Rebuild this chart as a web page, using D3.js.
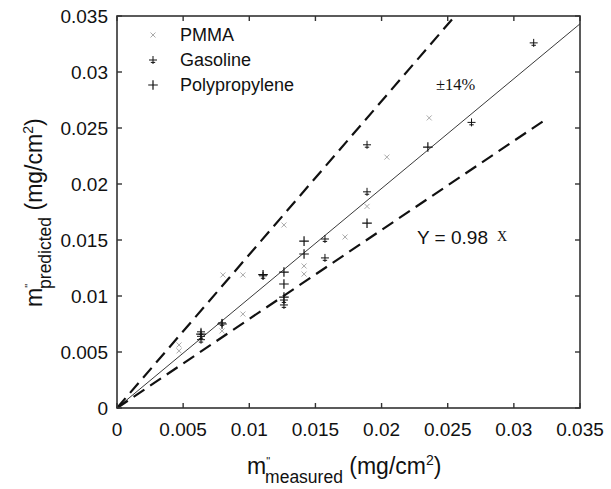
<!DOCTYPE html>
<html>
<head>
<meta charset="utf-8">
<script src="https://cdn.jsdelivr.net/npm/d3@7"></script>
<style>
  body { margin: 0; background: #fff; }
  svg { display: block; font-family: "Liberation Sans", Arial, sans-serif; }
</style>
</head>
<body>
<div id="chart"></div>
<script>
// measured vs predicted mass loss (mg/cm2)
const pmma = [
    [0.00469, 0.00563], [0.00469, 0.0051], [0.00794, 0.00688], [0.00801, 0.01188],
    [0.00952, 0.01188], [0.00952, 0.00839], [0.01262, 0.01634], [0.01414, 0.01268],
    [0.01414, 0.01196], [0.01724, 0.01527], [0.0189, 0.0180], [0.0204, 0.0224],
    [0.0236, 0.0259]
];
const gasoline = [
    [0.00635, 0.0068], [0.00635, 0.0064], [0.00635, 0.0061], [0.00794, 0.0076],
    [0.01104, 0.0118], [0.01262, 0.00964], [0.01262, 0.0092], [0.01572, 0.01509],
    [0.01572, 0.0134], [0.0189, 0.0193], [0.0189, 0.0235], [0.0268, 0.0255],
    [0.0315, 0.0326]
];
const polypropylene = [
    [0.00635, 0.0066], [0.00794, 0.0075], [0.01104, 0.0119], [0.01262, 0.01214],
    [0.01262, 0.01107], [0.01262, 0.0099], [0.01414, 0.0149], [0.01414, 0.01375],
    [0.0189, 0.0165], [0.0235, 0.0233]
];
const ticks = [0, 0.005, 0.01, 0.015, 0.02, 0.025, 0.03, 0.035];
const fitSlope = 0.98;
const upperSlope = 1.37;
const lowerSlope = 0.795;
const lowerEnd = 0.0326;

const width = 611, height = 489;
const plotL = 117, plotR = 580, plotT = 16, plotB = 408;

const svg = d3.select('#chart').append('svg')
    .attr('width', width)
    .attr('height', height);

const x = d3.scaleLinear().domain([0, 0.035]).range([plotL, plotR]);
const y = d3.scaleLinear().domain([0, 0.035]).range([plotB, plotT]);

const fmt = d => d === 0 ? '0' : String(+d.toFixed(3));

// ─── Reference lines ───
const plot = svg.append('g');
const line = d3.line().x(d => x(d[0])).y(d => y(d[1]));

plot.append('path')
    .attr('d', line([[0, 0], [0.035, 0.035 * fitSlope]]))
    .attr('fill', 'none').attr('stroke', '#222').attr('stroke-width', 0.9);
plot.append('path')
    .attr('d', line([[0, 0], [0.035 / upperSlope, 0.035]]))
    .attr('fill', 'none').attr('stroke', '#111').attr('stroke-width', 2.2)
    .attr('stroke-dasharray', '13,7');
plot.append('path')
    .attr('d', line([[0, 0], [lowerEnd, lowerEnd * lowerSlope]]))
    .attr('fill', 'none').attr('stroke', '#111').attr('stroke-width', 2.2)
    .attr('stroke-dasharray', '13,7');

// ─── Markers ───
const drawX = (g, cx, cy) => {
    const r = 2.5;
    g.append('path')
        .attr('d', `M${cx - r},${cy - r}L${cx + r},${cy + r}M${cx - r},${cy + r}L${cx + r},${cy - r}`)
        .attr('stroke', '#a0a0a0').attr('stroke-width', 0.9).attr('fill', 'none');
};
const drawGas = (g, cx, cy) => {
    const r = 4;
    g.append('path')
        .attr('d', `M${cx - r},${cy}L${cx + r},${cy}M${cx},${cy - r}L${cx},${cy + r}M${cx - 2.2},${cy + 2.4}L${cx + 2.2},${cy + 2.4}`)
        .attr('stroke', '#111').attr('stroke-width', 1).attr('fill', 'none');
};
const drawPlus = (g, cx, cy) => {
    const r = 4.8;
    g.append('path')
        .attr('d', `M${cx - r},${cy}L${cx + r},${cy}M${cx},${cy - r}L${cx},${cy + r}`)
        .attr('stroke', '#111').attr('stroke-width', 1.2).attr('fill', 'none');
};

const marks = svg.append('g');
pmma.forEach(d => drawX(marks, x(d[0]), y(d[1])));
gasoline.forEach(d => drawGas(marks, x(d[0]), y(d[1])));
polypropylene.forEach(d => drawPlus(marks, x(d[0]), y(d[1])));

// ─── Frame & ticks ───
const axisColor = '#333';
svg.append('rect')
    .attr('x', plotL).attr('y', plotT)
    .attr('width', plotR - plotL).attr('height', plotB - plotT)
    .attr('fill', 'none').attr('stroke', axisColor).attr('stroke-width', 1.6);

const tl = 5;
const tickG = svg.append('g').attr('stroke', axisColor).attr('stroke-width', 1.4);
ticks.forEach(t => {
    tickG.append('line').attr('x1', x(t)).attr('x2', x(t)).attr('y1', plotB).attr('y2', plotB - tl);
    tickG.append('line').attr('x1', x(t)).attr('x2', x(t)).attr('y1', plotT).attr('y2', plotT + tl);
    tickG.append('line').attr('y1', y(t)).attr('y2', y(t)).attr('x1', plotL).attr('x2', plotL + tl);
    tickG.append('line').attr('y1', y(t)).attr('y2', y(t)).attr('x1', plotR).attr('x2', plotR - tl);
});

const labelSize = 19;
svg.append('g').selectAll('text').data(ticks).join('text')
    .attr('x', d => x(d)).attr('y', 436)
    .attr('text-anchor', 'middle')
    .style('font-size', labelSize + 'px').attr('fill', '#111')
    .text(fmt);
svg.append('g').selectAll('text').data(ticks).join('text')
    .attr('x', 108).attr('y', d => y(d)).attr('dy', '0.36em')
    .attr('text-anchor', 'end')
    .style('font-size', labelSize + 'px').attr('fill', '#111')
    .text(fmt);

// ─── Axis titles ───
const title = (g, sub) => {
    g.append('tspan').text('m');
    g.append('tspan').attr('dy', -9).style('font-size', '11px').text('"');
    g.append('tspan').attr('dx', -5).attr('dy', 18).style('font-size', '17.5px').text(sub);
    g.append('tspan').attr('dy', -9).text(' (mg/cm');
    g.append('tspan').attr('dy', -9).style('font-size', '14px').text('2');
    g.append('tspan').attr('dy', 9).text(')');
};
const xt = svg.append('text')
    .attr('x', 247).attr('y', 474)
    .style('font-size', '23px').attr('fill', '#111');
title(xt, 'measured');

const yt = svg.append('text')
    .attr('transform', 'translate(42,307) rotate(-90)')
    .style('font-size', '23px').attr('fill', '#111');
title(yt, 'predicted');

// ─── Legend ───
const legend = svg.append('g');
const legendRows = [
    { name: 'PMMA', draw: drawX, y: 35 },
    { name: 'Gasoline', draw: drawGas, y: 60 },
    { name: 'Polypropylene', draw: drawPlus, y: 85 }
];
legendRows.forEach(r => {
    r.draw(legend, 153, r.y);
    legend.append('text')
        .attr('x', 180).attr('y', r.y).attr('dy', '0.36em')
        .style('font-size', '18px').attr('fill', '#111')
        .text(r.name);
});

// ─── Annotations ───
const serif = '"Liberation Serif", "Times New Roman", serif';
svg.append('text')
    .attr('x', 436).attr('y', 90)
    .style('font-family', serif)
    .style('font-size', '16.5px').attr('fill', '#111')
    .text('±14%');

svg.append('text')
    .attr('x', 417).attr('y', 244)
    .style('font-size', '19px').attr('fill', '#111')
    .text('Y = 0.98');
svg.append('text')
    .attr('x', 497).attr('y', 241)
    .style('font-family', serif)
    .style('font-size', '14px').attr('fill', '#111')
    .text('X');
</script>
</body>
</html>
